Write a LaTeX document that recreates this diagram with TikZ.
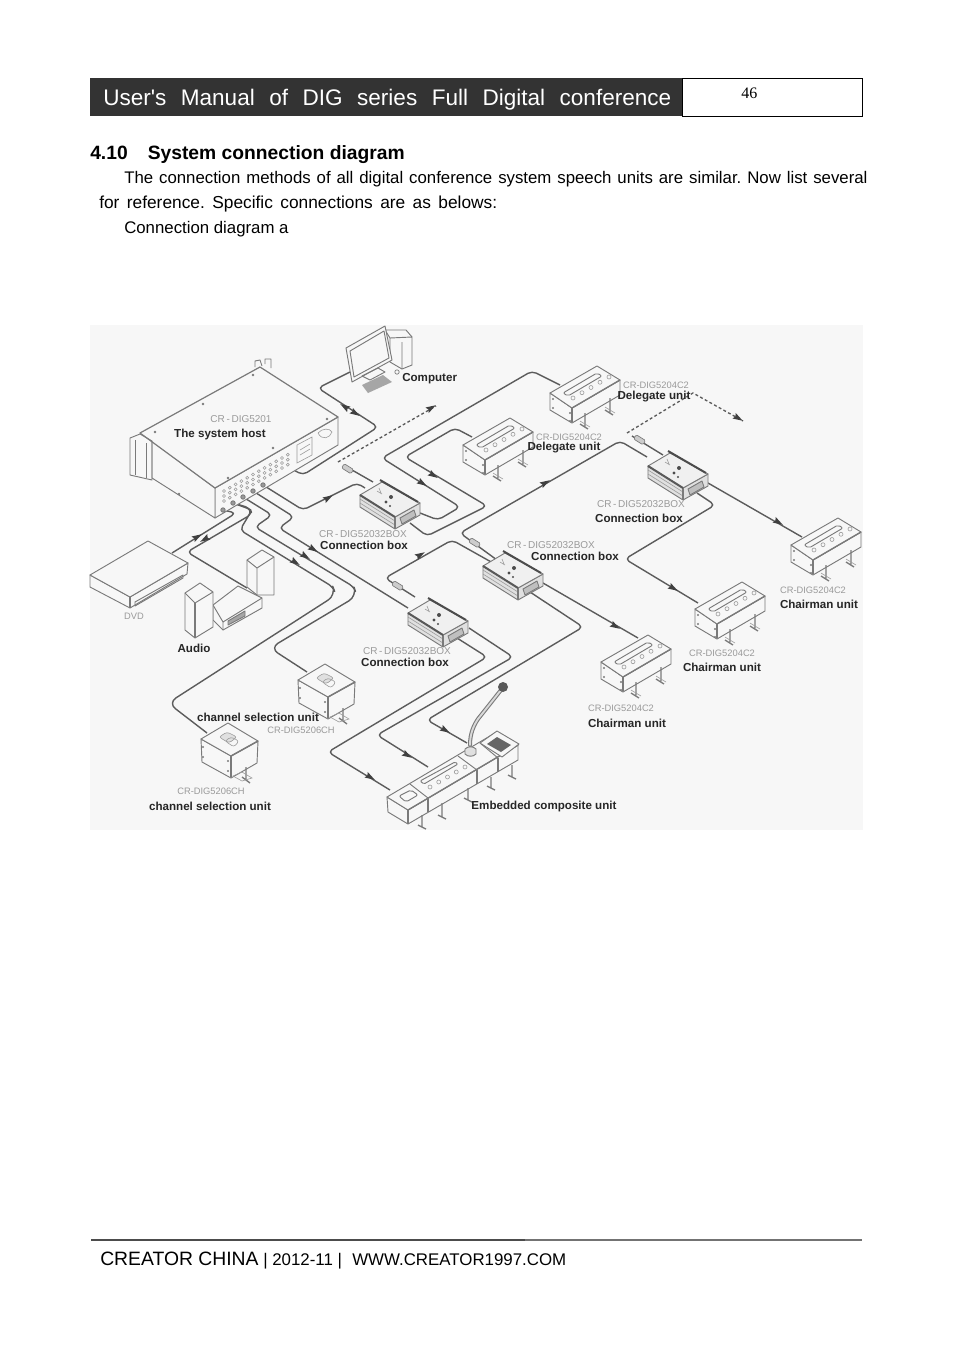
\documentclass[tikz,border=0pt]{standalone}
\usepackage{fontspec}
\setmainfont{Liberation Sans}
\newfontfamily\numfont{Liberation Serif}
\newfontfamily\hdrfont{Liberation Sans}
\usetikzlibrary{calc}
\definecolor{wirec}{HTML}{5C5C5C}
\definecolor{devc}{HTML}{7A7A7A}
\definecolor{bgc}{HTML}{F7F7F7}
\definecolor{hdr}{HTML}{333333}
\definecolor{labgray}{HTML}{9A9A9A}
\tikzset{
  wire/.style={draw=wirec,line width=1.05pt,rounded corners=3.5pt,line join=round},
  dashwire/.style={draw=wirec,line width=1pt,dash pattern=on 2.2pt off 1.8pt},
  dev/.style={draw=devc,line width=0.7pt,line join=round},
  devf/.style={dev,fill=bgc},
  thin dev/.style={draw=devc!75,line width=0.45pt},
  lab/.style={inner sep=0,font=\fontsize{8.7}{10}\selectfont\bfseries,text=black!85},
  glab/.style={inner sep=0,font=\fontsize{7}{8}\selectfont,text=labgray},
  glabw/.style={inner sep=0,font=\fontsize{7.5}{8}\selectfont,text=labgray},
  ptext/.style={anchor=base west,inner sep=0,font=\fontsize{12.6}{14}\selectfont},
}
\newcommand\arr[3]{\fill[black!75,shift={(#1,#2)},rotate=#3] (5.5,0) -- (-4.5,-3.2) -- (-3,0) -- (-4.5,3.2) -- cycle;}
\newcommand\plugat[3]{\draw[devc,fill=black!20,line width=.5pt,shift={(#1,#2)},rotate=#3,rounded corners=1pt] (-6,-2.5) rectangle (5,2.5);}
% long desk unit, origin = back corner of top face
\newcommand\deskunit[1]{\begin{scope}[shift={(#1)}]
  \draw[devf] (-47,27) -- (-47,44) -- (-25,57) -- (23,29) -- (23,14) -- (-25,42) -- cycle;
  \draw[dev,line width=1.1pt] (-25,42) -- (-25,56);
  \draw[dev,fill=bgc] (-47,27) -- (0,0) -- (23,14) -- (-25,42) -- cycle;
  \draw[dev,line width=1pt] (-25,42) -- (23,14);
  \draw[dev,rounded corners=1.5pt] (-34,27) -- (0,7) -- (5,10) -- (-29,30) -- cycle;
  \foreach \t in {0,.25,.5,.75,1}{\draw[thin dev] ($(-24,32)!\t!(12,11)$) circle[radius=2];}
  \fill[devc] (-44,33) circle[radius=1.1] (-44,42) circle[radius=1.1] (-27,47) circle[radius=1.1] (-27,55) circle[radius=1.1];
  \draw[dev,line width=1pt] (-12,47) -- (-12,60) (-17,58) -- (-9,63) (13,32) -- (13,46) (8,44) -- (16,49);
  \draw[thin dev] (-17,55) -- (-7,61) (8,41) -- (18,47);
\end{scope}}
% channel unit
\newcommand\chanunit[1]{\begin{scope}[shift={(#1)}]
  \draw[devf] (-27,16) -- (-26,39) -- (3,55) -- (29,40) -- (30,18) -- (3,33) -- cycle;
  \draw[dev,line width=1.1pt] (3,33) -- (3,54);
  \draw[dev,fill=bgc] (-27,16) -- (0,0) -- (30,18) -- (3,33) -- cycle;
  \draw[dev,line width=1.1pt] (3,33) -- (30,18);
  \draw[thin dev,rounded corners=2pt,fill=black!12] (-9,14) -- (-1,9) -- (9,14) -- (1,20) -- cycle;
  \draw[thin dev,rounded corners=2pt] (-3,18) -- (3,14) -- (11,18) -- (6,24) -- cycle;
  \fill[devc] (-25,24) circle[radius=1.1] (-25,34) circle[radius=1.1] (0,38) circle[radius=1.1] (0,48) circle[radius=1.1];
  \draw[dev,line width=1pt] (18,44) -- (18,56) (14,54) -- (22,60);
  \draw[thin dev] (5,53) -- (14,49) -- (24,55) -- (14,58) -- cycle;
\end{scope}}
% connection box
\newcommand\connbox[1]{\begin{scope}[shift={(#1)}]
  \draw[dev,fill=black!12] (-22,13) -- (-22,25) -- (13,47) -- (38,33) -- (38,21) -- (13,35) -- cycle;
  \draw[thin dev] (-22,17) -- (13,39) (-22,21) -- (13,43);
  \draw[dev,line width=1.2pt] (13,35) -- (13,47);
  \draw[dev,fill=black!6] (-22,13) -- (0,0) -- (38,21) -- (13,35) -- cycle;
  \draw[black!70,line width=1.5pt] (-2,-2) -- (36,20);
  \draw[black!65,line width=1.5pt] (-22,13) -- (13,35);
  \fill[black!70] (9,15) circle[radius=2] (4,20) circle[radius=1.6] (8,24) circle[radius=1.2];
  \draw[thin dev] (-5,9) -- (0,12) (-3,6) -- (-1,11);
  \draw[dev,fill=black!25] (18,36) -- (32,28) -- (34,34) -- (20,42) -- cycle;
\end{scope}}
\begin{document}
\begin{tikzpicture}[x=.75pt,y=-.75pt]
\useasboundingbox (0,0) rectangle (954,1350);
\fill[white] (0,0) rectangle (954,1350);
% header
\node[fill=hdr,minimum width=444pt,minimum height=28.5pt,anchor=north west,inner sep=0] (hdrbar) at (90,78) {};
\node[draw=black,line width=.8pt,fill=white,minimum width=135pt,minimum height=28.5pt,anchor=north west,inner sep=0] (pagebox) at (682,78) {};
\node[anchor=base west,inner sep=0,text=white,font=\hdrfont\fontsize{16.9}{18}\selectfont] (hdrtext) at (103,105) {\hbox to 426pt{User's\hfill Manual\hfill of\hfill DIG\hfill series\hfill Full\hfill Digital\hfill conference}};
\node[anchor=base west,inner sep=0,font=\numfont\fontsize{12}{14}\selectfont] (pagenum) at (741,98) {46};
% titles
\node[anchor=base west,inner sep=0,font=\fontsize{14.45}{16}\bfseries\selectfont] (sect) at (90,159) {4.10};
\node[anchor=base west,inner sep=0,font=\fontsize{14.45}{16}\bfseries\selectfont] (secttitle) at (147.5,159) {System connection diagram};
\node[ptext] (p1) at (124,183) {\hbox to 557.5pt{The\hfill connection\hfill methods\hfill of\hfill all\hfill digital\hfill conference\hfill system\hfill speech\hfill units\hfill are\hfill similar.\hfill Now\hfill list\hfill several}};
\node[ptext,font=\fontsize{13}{14}\selectfont] (p2) at (99,208) {\hbox to 298.5pt{for\hfill reference.\hfill Specific\hfill connections\hfill are\hfill as\hfill belows:}};
\node[ptext] (p3) at (124,233) {Connection diagram a};
% footer
\draw[black!70,line width=1.2pt] (91,1240) -- (525,1240);
\draw[black!55,line width=.8pt] (525,1240) -- (862,1240);
\node[anchor=base west,inner sep=0,font=\fontsize{14.5}{16}\selectfont] (f1) at (100,1265) {CREATOR CHINA};
\node[anchor=base west,inner sep=0,font=\fontsize{12.65}{14}\selectfont] (f2) at (263,1265) {| 2012-11 |};
\node[anchor=base west,inner sep=0,font=\fontsize{12.65}{14}\selectfont] (f3) at (352,1265) {WWW.CREATOR1997.COM};
% diagram background
\fill[bgc] (90,325) rectangle (863,830);

% named connection points
\foreach \n/\x/\y in {p1/223/510,p2/233/503,p3/243/497,p4/253/491,p5/263/485,p6/290/468,
  pc/350/372,dv/172/553,au/247/588,ca/207/733,cb/307/672,
  bAl/365/488,bAp/373/482,bAr/420/513,bAd/410/523,
  bBl/493/563,bBp/497/560,bBr/543/583,bBd/530/592,
  bCl/647/457,bCp/663/455,bCr/708/483,bCd/697/493,
  bDl/408/608,bDp/415/597,bDr/469/628,bDd/457/638,
  dA/560/385,dB/472/437,cR/802/537,cM/698/603,cL/638/638,eA/390/790,eB/428/767,eC/467/743,
  dashA/338/462,dashAe/436/406,dashB/627/433,dashM/693/393,dashBe/743/421}
  {\coordinate (\n) at (\x,\y);}

% wires
\draw[wire] (pc) -- (318,388) -- (378,427) -- (303,475) -- (p6);
\draw[wire] (p5) -- (303,510) -- (357,483) -- (bAl);
\draw[wire] (p4) -- (294,517) -- (279,528) -- (bDl);
\draw[wire] (p3) -- (272,515) -- (255,527) -- (354,587) [rounded corners=7pt] -- (357,596) -- (270,648) [rounded corners=3.5pt] -- (cb);
\draw[wire] (p2) -- (252,510) -- (240,530) -- (333,587) [rounded corners=7pt] -- (336,595) -- (168,703) [rounded corners=3.5pt] -- (ca);
\draw[wire] (p1) -- (236,513) -- (dv);
\draw[wire] (p2) -- (250,508) -- (252,514) -- (187,552) -- (au);
\draw[wire] (bAd) -- (427,536) -- (487,506) -- (405,457) -- (455,428) -- (dB);
\draw[wire] (bAr) -- (438,520) -- (460,507) -- (382,458) -- (532,371) -- (dA);
\draw[wire] (bBp) -- (460,533) -- (620,441) -- (bCl);
\draw[wire] (bBl) -- (452,540) -- (385,578) -- (bDp);
\draw[wire] (bCr) -- (cR);
\draw[wire] (bCd) -- (715,505) -- (625,559) -- (cM);
\draw[wire] (bBr) -- (cL);
\draw[wire] (bBd) -- (583,627) -- (427,720) -- (eC);
\draw[wire] (bDr) -- (513,657) -- (377,735) -- (eB);
\draw[wire] (bDd) -- (487,657) -- (328,752) -- (eA);
\draw[wire] (bAp) -- (345,466);
\draw[wire] (bCp) -- (632,436);
% dashed
\draw[dashwire] (dashA) -- (dashAe);
\draw[dashwire] (dashB) -- (dashM) -- (dashBe);
% plugs
\plugat{348}{469}{-32}
\plugat{640}{440}{-32}
\plugat{475}{543}{-32}
\plugat{398}{586}{-32}
% arrowheads
\arr{345}{407}{148}\arr{355}{413}{-32}\arr{328}{498}{30}\arr{431}{408}{30}\arr{738}{418}{-30}
\arr{422}{483}{-32}\arr{433}{475}{-32}\arr{545}{483}{30}\arr{420}{555}{30}
\arr{778}{522}{-30}\arr{673}{588}{-30}\arr{615}{626}{-30}
\arr{407}{755}{-30}\arr{445}{730}{-30}\arr{370}{777}{-30}
\arr{197}{537}{30}\arr{205}{539}{210}
\arr{313}{549}{-32}\arr{305}{556}{-32}\arr{295}{562}{-32}

% host
\draw[devf] (215,488) -- (215,518) -- (338,445) -- (338,417) -- cycle;
\draw[devf] (152,441) -- (215,488) -- (215,518) -- (152,478) -- cycle;
\draw[dev,fill=bgc,line width=.9pt] (140,433) -- (260,367) -- (338,417) -- (215,488) -- cycle;
\draw[dev] (130,438) -- (140,434) -- (152,441) -- (152,480) -- (130,475) -- cycle;
\draw[dev] (135,440) -- (135,475) (146,443) -- (146,478);
\draw[dev] (255,367) -- (255,361) -- (260,360) -- (262,366) (265,364) -- (265,359) -- (271,359) -- (271,368);
\foreach \x/\y in {155/432,203/404,253/375,327/419,273/448,228/478,179/494}{\fill[devc] (\x,\y) circle[radius=1.3];}
\foreach \i in {0,...,11}{
  \foreach \j in {0,1,2}{
    \draw[thin dev] ($(224+\i*5.8,491-\i*3.3+\j*5)$) circle[radius=1.5];}}
\foreach \x/\y in {223/510,233/503,243/497,253/491,263/485}{\draw[devc,fill=black!40,line width=.6pt] (\x,\y) circle[radius=2.2];}
\draw[thin dev] (297,445) -- (312,437) -- (312,455) -- (297,463) -- cycle (300,450) -- (310,444) (300,455) -- (310,449);
\draw[thin dev] (318,433) .. controls (322,428) and (330,428) .. (332,432) .. controls (330,438) and (322,441) .. (318,433);
% computer
\draw[devf] (390,338) -- (412,337) -- (412,365) -- (402,369) -- (390,362) -- cycle;
\draw[dev] (402,342) -- (402,369) (390,338) -- (385,330) (412,337) -- (406,330) -- (385,330);
\draw[devf] (346,348) -- (385,326) -- (392,360) -- (352,382) -- cycle;
\draw[dev] (350,351) -- (384,331) -- (389,358) -- (354,377) -- cycle;
\draw[dev] (362,376) -- (370,380) -- (385,372) -- (378,368) -- cycle;
\fill[black!35] (362,385) -- (383,375) -- (392,382) -- (368,393) -- cycle;
\draw[devc,line width=.5pt] (397,372) circle[radius=2.2];
% DVD
\draw[devf] (90,575) -- (90,587) -- (130,608) -- (187,574) -- (188,563) -- (130,597) -- cycle;
\draw[dev,line width=1.1pt] (130,597) -- (130,608);
\draw[dev,fill=bgc] (90,575) -- (148,541) -- (188,563) -- (130,597) -- cycle;
\draw[dev] (135,602) -- (183,575) -- (183,578) -- (135,606) -- cycle;
% audio
\draw[devf] (247,560) -- (262,550) -- (274,557) -- (274,595) -- (257,595) -- (247,587) -- cycle;
\draw[dev] (247,560) -- (257,568) -- (274,557) (257,568) -- (257,595);
\draw[devf] (213,605) -- (238,586) -- (262,598) -- (262,608) -- (223,630) -- (213,620) -- cycle;
\draw[dev] (213,605) -- (223,622) -- (262,598) (223,622) -- (223,630);
\draw[dev,fill=black!35] (228,621) -- (245,611) -- (245,616) -- (228,625) -- cycle;
\draw[devf] (185,593) -- (200,583) -- (213,592) -- (213,627) -- (195,638) -- (185,630) -- cycle;
\draw[dev] (185,593) -- (195,603) -- (213,592);
\draw[dev,line width=1pt] (195,603) -- (195,638);
% boxes
\connbox{382,482}
\connbox{505,553}
\connbox{670,453}
\connbox{430,600}
% units
\deskunit{597,366}
\deskunit{510,418}
\deskunit{838,518}
\deskunit{742,582}
\deskunit{648,635}
\chanunit{325,664}
\chanunit{228,723}
% composite unit
\draw[devf] (387,797) -- (388,812) -- (408,824) -- (518,760) -- (518,745) -- (408,810) -- cycle;
\draw[dev,fill=bgc] (387,797) -- (495,733) -- (518,745) -- (408,810) -- cycle;
\draw[dev,line width=1pt] (408,810) -- (518,745);
\draw[dev] (410,784) -- (428,798) (458,756) -- (477,770) (480,743) -- (498,758);
\draw[dev,line width=1pt] (408,810) -- (408,824) (428,798) -- (428,812) (477,770) -- (477,784) (498,758) -- (498,772);
\draw[dev,rounded corners=1.5pt] (399,796) -- (411,790) -- (418,795) -- (406,802) -- cycle;
\draw[dev,rounded corners=1pt] (420,781) -- (455,762) -- (458,764) -- (424,784) -- cycle;
\foreach \t in {0,.25,.5,.75,1}{\draw[thin dev] ($(430,787)!\t!(465,767)$) circle[radius=2];}
\draw[dev,line width=1pt] (422,815) -- (422,827) (418,825) -- (426,829) (442,803) -- (442,817) (438,815) -- (446,819) (468,788) -- (468,800) (464,798) -- (472,802) (491,777) -- (491,788) (487,786) -- (495,790) (512,765) -- (512,777) (508,775) -- (516,779);
\draw[dev,fill=bgc] (480,743) -- (497,731) -- (519,744) -- (502,757) -- cycle;
\fill[black!60] (487,744) -- (497,737) -- (511,745) -- (501,752) -- cycle;
\draw[devc,line width=3pt,line cap=round] (470,745) .. controls (470,733) and (474,725) .. (478,719) -- (501,690);
\draw[black!15,line width=1.4pt,line cap=round] (470,745) .. controls (470,733) and (474,725) .. (478,719) -- (501,690);
\fill[black!65] (503,687) circle[radius=5];
\draw[dev,fill=black!12] (465,749) -- (465,754) .. controls (468,757) and (473,757) .. (476,754) -- (476,749) .. controls (473,746) and (468,746) .. (465,749);

% labels
\node[glabw] (gHost) at (241,419) {CR\,-\,DIG5201};
\node[lab] (lHost) at (220,434) {The system host};
\node[lab,anchor=west] (lComp) at (402,379) {Computer};
\node[glabw] (gA) at (363,534) {CR\,-\,DIG52032BOX};
\node[lab] (lA) at (364,545) {Connection box};
\node[glab] (gD1) at (656,385) {CR-DIG5204C2};
\node[lab] (lD1) at (654,396.5) {Delegate unit};
\node[glab] (gD2) at (569,437) {CR-DIG5204C2};
\node[lab] (lD2) at (564,448) {Delegate unit};
\node[glabw] (gC) at (641,504) {CR\,-\,DIG52032BOX};
\node[lab] (lC) at (639,518) {Connection box};
\node[glabw] (gB) at (551,545) {CR\,-\,DIG52032BOX};
\node[lab] (lB) at (575,556) {Connection box};
\node[glab] (gCR) at (813,590) {CR-DIG5204C2};
\node[lab] (lCR) at (819,604) {Chairman unit};
\node[glab] (gCM) at (722,653) {CR-DIG5204C2};
\node[lab] (lCM) at (722,667) {Chairman unit};
\node[glab] (gCL) at (621,708) {CR-DIG5204C2};
\node[lab] (lCL) at (627,723) {Chairman unit};
\node[glabw] (gE) at (407,651) {CR\,-\,DIG52032BOX};
\node[lab] (lE) at (405,662) {Connection box};
\node[glab] (gDVD) at (134,616) {DVD};
\node[lab] (lAudio) at (194,648) {Audio};
\node[lab] (lCh2) at (258,717) {channel selection unit};
\node[glab] (gCh2) at (301,730) {CR-DIG5206CH};
\node[glab] (gCh1) at (211,791) {CR-DIG5206CH};
\node[lab] (lCh1) at (210,806) {channel selection unit};
\node[lab] (lEmb) at (544,806.5) {Embedded composite unit};
\end{tikzpicture}
\end{document}
